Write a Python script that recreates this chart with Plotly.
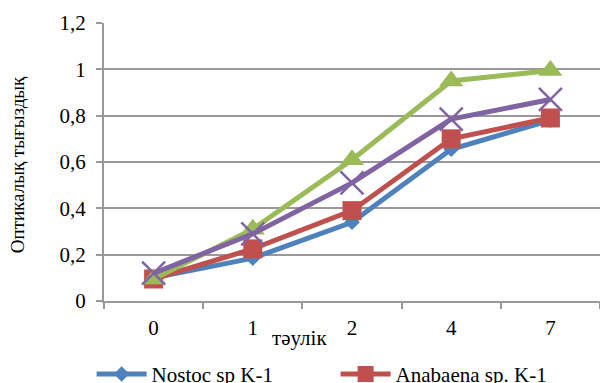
import plotly.graph_objects as go

# Sampling days (categorical x axis)
days = ["0", "1", "2", "4", "7"]

# Optical density per strain
nostoc_k1 = [0.10, 0.185, 0.34, 0.655, 0.78]
anabaena_k1 = [0.095, 0.225, 0.39, 0.70, 0.79]
nostoc_k2 = [0.095, 0.31, 0.61, 0.95, 0.995]
anabaena_k2 = [0.12, 0.29, 0.51, 0.785, 0.87]

y_ticks = [0, 0.2, 0.4, 0.6, 0.8, 1.0, 1.2]
y_ticktext = ["0", "0,2", "0,4", "0,6", "0,8", "1", "1,2"]

# name, values, colour, marker, shown in the legend row
series = [
    ("Nostoc sp K-1", nostoc_k1, "#4F81BD", dict(symbol="diamond", size=12), True),
    ("Anabaena sp. K-1", anabaena_k1, "#C0504D", dict(symbol="square", size=19), True),
    ("Nostoc sp K-2", nostoc_k2, "#9BBB59", dict(symbol="triangle-up", size=21), False),
    ("Anabaena sp. K-2", anabaena_k2, "#8064A2",
     dict(symbol="x-thin", size=23, line=dict(width=2.5, color="#8064A2")), False),
]

FONT = "Liberation Serif"
FS = 21
GRID = "#999999"

fig = go.Figure()
for name, vals, color, marker, in_legend in series:
    fig.add_trace(go.Scatter(
        x=days, y=vals, name=name, mode="lines+markers",
        line=dict(color=color, width=5),
        marker=dict(color=color, **marker),
        showlegend=in_legend,
    ))

fig.update_layout(
    width=600, height=383,
    margin=dict(l=104, r=0, t=23, b=82, autoexpand=False),
    paper_bgcolor="white", plot_bgcolor="white",
    font=dict(family=FONT, size=FS, color="black"),
    showlegend=True,
    legend=dict(
        orientation="h", xref="paper", yref="paper",
        x=-0.025, xanchor="left", y=-0.19, yanchor="top",
        entrywidth=179, entrywidthmode="pixels",
        font=dict(family=FONT, size=FS), itemwidth=50,
        tracegroupgap=0,
    ),
    xaxis=dict(
        type="category", range=[-0.5, 4.5],
        showline=True, linecolor=GRID, linewidth=2,
        ticks="outside", tickson="boundaries", ticklen=6, tickcolor=GRID,
        tickwidth=2, showgrid=False, ticklabelstandoff=7,
        tickfont=dict(family=FONT, size=FS),
    ),
    yaxis=dict(
        range=[0, 1.2], tickvals=y_ticks, ticktext=y_ticktext,
        showline=True, linecolor=GRID, linewidth=2,
        ticks="outside", ticklen=6, tickcolor=GRID, tickwidth=2,
        showgrid=True, gridcolor=GRID, gridwidth=2, zeroline=False,
        ticklabelstandoff=6,
        tickfont=dict(family=FONT, size=FS),
    ),
    annotations=[
        dict(text="тәулік", xref="paper", yref="paper",
             x=0.395, y=-0.133, xanchor="center", yanchor="middle",
             showarrow=False, font=dict(family=FONT, size=FS)),
        dict(text="Оптикалық тығыздық", xref="paper", yref="paper",
             x=-0.175, y=0.489, xanchor="center", yanchor="middle",
             textangle=-90, showarrow=False,
             font=dict(family=FONT, size=19)),
    ],
)

fig.write_html("out.html")
